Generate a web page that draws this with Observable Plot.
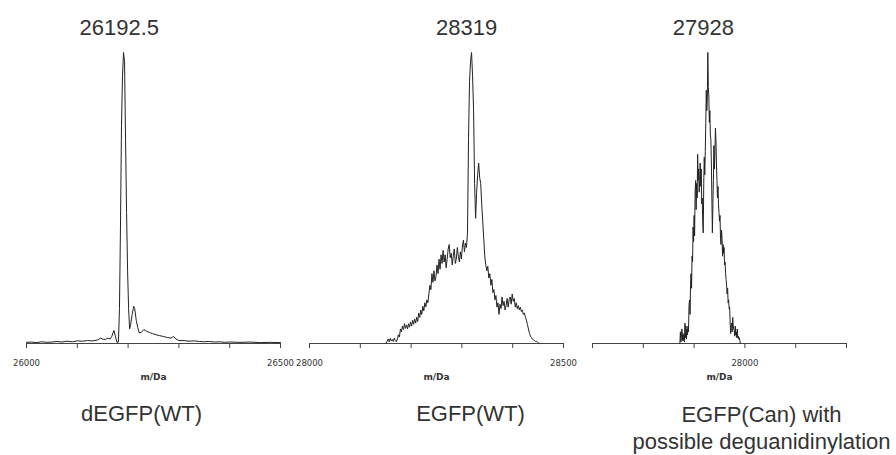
<!DOCTYPE html>
<html>
<head>
<meta charset="utf-8">
<script src="https://cdn.jsdelivr.net/npm/d3@7"></script>
<script src="https://cdn.jsdelivr.net/npm/@observablehq/plot@0.6"></script>
<style>
  html, body { margin: 0; padding: 0; background: #fff; }
  #chart { position: relative; width: 896px; height: 455px; overflow: hidden; }
  #chart svg { position: absolute; top: 0; overflow: visible; }
</style>
</head>
<body>
<div id="chart"></div>
<script>
// ---------- data ----------
const xLabel = "m/Da";

const titles = ["26192.5", "28319", "27928"];
const titlePeaks = [26192.5, 28319, 27928];
const sampleLabels = ["dEGFP(WT)", "EGFP(WT)", "EGFP(Can) with\npossible deguanidinylation"];

const domainsX = [[26000, 26500], [28000, 28500], [27700, 28200]];
const ticks1 = [26000, 26100, 26200, 26300, 26400, 26500];
const ticks2 = [28000, 28100, 28200, 28300, 28400, 28500];
const ticks3 = [27700, 27800, 27900, 28000, 28100, 28200];
const tickLabels1 = [26000, 26500];
const tickLabels2 = [28000, 28500];
const tickLabels3 = [28000];

// dEGFP(WT) spectrum: [mass (Da), relative intensity %]
const spectrum1 = [
  [26000, 0.4], [26010, 0.5], [26020, 0.3], [26030, 0.6], [26040, 0.4], [26050, 0.5], [26060, 0.7],
  [26070, 0.5], [26080, 0.8], [26090, 0.6], [26100, 0.9], [26110, 0.8], [26120, 1.0], [26130, 0.9],
  [26140, 1.2], [26146, 1.9], [26150, 1.5], [26155, 1.4], [26160, 1.8], [26165, 1.6], [26168, 2.5],
  [26172, 4.5], [26175, 2.5], [26178, 0.4], [26181, 0.5], [26183, 12], [26185, 40], [26187, 75],
  [26189, 92], [26191, 100], [26193, 97], [26195, 70], [26197, 45], [26199, 25], [26201, 12],
  [26203, 5], [26205, 6.5], [26208, 10], [26211, 12.8], [26213, 12], [26216, 8], [26219, 5.5],
  [26222, 3.6], [26226, 3.8], [26231, 4.8], [26236, 4.2], [26242, 3.8], [26248, 3.4], [26255, 3.0],
  [26262, 2.7], [26270, 2.4], [26278, 2.0], [26285, 1.9], [26289, 2.4], [26294, 1.6], [26300, 1.0],
  [26310, 1.0], [26320, 0.8], [26330, 0.9], [26340, 0.7], [26350, 0.6], [26360, 0.7], [26370, 0.5],
  [26380, 0.6], [26390, 0.4], [26400, 0.5], [26420, 0.4], [26440, 0.5], [26460, 0.3], [26480, 0.4],
  [26500, 0.3]
];

// EGFP(WT) spectrum
const spectrum2 = [
  [28150, 0], [28153, 0.8], [28155, 1.5], [28157, 0.6], [28159, 1.8], [28161, 0.9], [28163, 1.4],
  [28165, 0.7], [28167, 1.9], [28169, 1.0], [28171, 0.6], [28173, 1.5], [28175, 3.0], [28177, 2.2],
  [28179, 5.0], [28181, 4.0], [28183, 6.0], [28185, 4.8], [28187, 6.8], [28189, 5.2], [28191, 6.4],
  [28193, 5.0], [28195, 6.8], [28197, 5.6], [28199, 7.4], [28201, 6.0], [28203, 8.0], [28205, 6.6],
  [28207, 8.4], [28209, 7.0], [28211, 9.0], [28213, 7.6], [28215, 10.5], [28217, 9.0], [28219, 11.5],
  [28221, 10.0], [28223, 12.8], [28225, 11.2], [28227, 14.0], [28229, 12.6], [28231, 15.0], [28233, 14.0],
  [28235, 17.0], [28237, 20.0], [28239, 18.5], [28241, 24.0], [28243, 21.0], [28245, 25.0], [28247, 21.5],
  [28249, 23.0], [28251, 27.0], [28253, 24.0], [28255, 29.0], [28257, 25.5], [28259, 30.5], [28261, 27.5],
  [28263, 32.0], [28265, 28.0], [28267, 30.5], [28269, 26.0], [28271, 29.0], [28273, 32.5], [28275, 34.0],
  [28277, 29.5], [28279, 31.0], [28281, 27.0], [28283, 30.0], [28285, 32.5], [28287, 27.5], [28289, 29.0],
  [28291, 33.0], [28293, 30.0], [28295, 28.0], [28297, 31.5], [28299, 29.0], [28301, 33.5], [28303, 35.5],
  [28305, 31.5], [28307, 34.5], [28309, 33.0], [28311, 38.0], [28313, 70], [28315, 90], [28317, 97],
  [28319, 100], [28321, 92], [28323, 80], [28325, 55], [28327, 43], [28329, 52], [28331, 58],
  [28333, 62], [28335, 57], [28337, 55], [28339, 48], [28341, 42], [28343, 36], [28345, 30],
  [28347, 27], [28349, 25], [28351, 26.5], [28353, 22.5], [28355, 24], [28357, 20], [28359, 22],
  [28361, 17.5], [28363, 18.5], [28365, 15], [28367, 16.5], [28369, 12.5], [28371, 14], [28373, 10],
  [28375, 13.5], [28377, 12], [28379, 16], [28381, 13], [28383, 14.5], [28385, 11.5], [28387, 13],
  [28389, 15.5], [28391, 12.5], [28393, 15], [28395, 16], [28397, 13.5], [28399, 17], [28401, 14.5],
  [28403, 15.5], [28405, 12.5], [28407, 14], [28409, 12], [28411, 13], [28413, 11.5], [28415, 12.5],
  [28417, 11], [28419, 11.5], [28421, 10], [28423, 10.5], [28425, 9], [28427, 8], [28429, 6.5],
  [28431, 5], [28433, 3.5], [28435, 2.5], [28437, 2], [28439, 1.5], [28441, 1.2], [28443, 1.0],
  [28445, 0.7], [28447, 0.8], [28449, 0.4], [28452, 0]
];

// EGFP(Can) spectrum
const spectrum3 = [
  [27872, 0], [27873, 4], [27874, 0.5], [27875, 2], [27876, 5], [27877, 1], [27878, 3.5], [27879, 1],
  [27880, 3], [27881, 0.5], [27882, 7], [27883, 2], [27884, 6], [27885, 1.5], [27886, 5], [27887, 3],
  [27888, 6], [27889, 4], [27890, 13], [27891, 15], [27892, 10], [27893, 20], [27894, 24], [27895, 19],
  [27896, 30], [27897, 28], [27898, 40], [27899, 35], [27900, 44], [27901, 37], [27902, 52], [27903, 56],
  [27904, 46], [27905, 55], [27906, 50], [27907, 65], [27908, 56], [27909, 60], [27910, 52], [27911, 56],
  [27912, 62], [27913, 54], [27914, 60], [27915, 48], [27916, 50], [27917, 42], [27918, 38], [27919, 55],
  [27920, 64], [27921, 58], [27922, 66], [27923, 76], [27924, 87], [27925, 80], [27926, 84], [27927, 100],
  [27928, 88], [27929, 85], [27930, 76], [27931, 80], [27932, 72], [27933, 70], [27934, 62], [27935, 50],
  [27936, 38], [27937, 48], [27938, 56], [27939, 68], [27940, 60], [27941, 66], [27942, 74], [27943, 70],
  [27944, 62], [27945, 56], [27946, 50], [27947, 54], [27948, 48], [27949, 45], [27950, 42], [27951, 44],
  [27952, 36], [27953, 34], [27954, 39], [27955, 36], [27956, 30], [27957, 34], [27958, 31], [27959, 33],
  [27960, 27], [27961, 28], [27962, 24], [27963, 22], [27964, 20], [27965, 17], [27966, 19], [27967, 14],
  [27968, 15], [27969, 12], [27970, 12.5], [27971, 7], [27972, 3.4], [27973, 6], [27974, 7], [27975, 4],
  [27976, 9], [27977, 6], [27978, 5], [27979, 4.5], [27980, 2.5], [27981, 6], [27982, 3], [27983, 4],
  [27984, 2], [27985, 5], [27986, 2], [27987, 2.5], [27988, 1.5], [27989, 2], [27990, 1], [27991, 0]
];

// ---------- drawing ----------
const sans = "'Liberation Sans', Arial, sans-serif";
const small = "'DejaVu Sans', Verdana, sans-serif";

function panel({spectrum, domain, ticks, tickLabels, title, peak, label, left, width, ml, mr, labelDx, labelDy}) {
  const data = spectrum.map(([m, v]) => ({m, v}));
  const svg = Plot.plot({
    width, height: 455,
    marginLeft: ml, marginRight: mr, marginTop: 52, marginBottom: 112,
    x: {domain},
    y: {domain: [0, 100], axis: null},
    style: {background: "transparent", color: "#333", overflow: "visible"},
    marks: [
      Plot.ruleY([0], {stroke: "#444", strokeWidth: 1}),
      Plot.axisX({ticks, tickSize: 5, tickPadding: 11, label: null,
        tickFormat: d => tickLabels.includes(d) ? String(d) : "",
        fontSize: 8.5, fontFamily: small, fill: "#333", stroke: "#444"}),
      Plot.line(data, {x: "m", y: "v", stroke: "#222", strokeWidth: 1}),
      Plot.text([{t: title, x: peak}], {x: "x", text: "t", frameAnchor: "top", lineAnchor: "middle",
        dx: -5, dy: -25, fontSize: 22, fontFamily: sans, fill: "#333"}),
      Plot.text([xLabel], {frameAnchor: "bottom", lineAnchor: "middle", dy: 34, fontSize: 9,
        fontWeight: "bold", fontFamily: small, fill: "#333"}),
      Plot.text([label], {frameAnchor: "bottom", lineAnchor: "middle", dx: labelDx, dy: labelDy,
        lineHeight: 1.2, fontSize: 22, fontFamily: sans, fill: "#333"})
    ]
  });
  svg.style.left = left + "px";
  return svg;
}

const chart = document.getElementById("chart");
chart.appendChild(panel({spectrum: spectrum1, domain: domainsX[0], ticks: ticks1, tickLabels: tickLabels1,
  title: titles[0], peak: titlePeaks[0], label: sampleLabels[0], left: 0, width: 296, ml: 26, mr: 16,
  labelDx: -12, labelDy: 69}));
chart.appendChild(panel({spectrum: spectrum2, domain: domainsX[1], ticks: ticks2, tickLabels: tickLabels2,
  title: titles[1], peak: titlePeaks[1], label: sampleLabels[1], left: 290, width: 294, ml: 19, mr: 21,
  labelDx: 34, labelDy: 69}));
chart.appendChild(panel({spectrum: spectrum3, domain: domainsX[2], ticks: ticks3, tickLabels: tickLabels3,
  title: titles[2], peak: titlePeaks[2], label: sampleLabels[2], left: 584, width: 312, ml: 8, mr: 50,
  labelDx: 42, labelDy: 83.5}));
</script>
</body>
</html>
